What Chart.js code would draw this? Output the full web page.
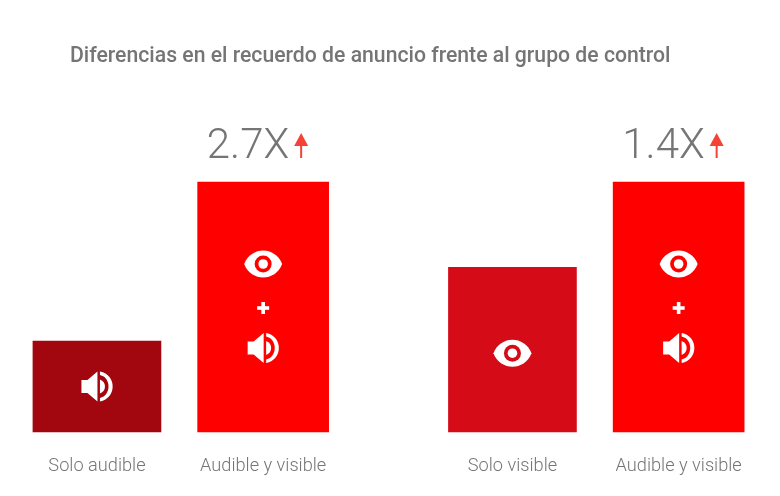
<!DOCTYPE html>
<html><head><meta charset="utf-8">
<style>html,body{margin:0;padding:0;background:#fff}canvas{display:block}</style>
<script src="https://cdn.jsdelivr.net/npm/chart.js@4"></script>
</head><body><canvas id="c" width="780" height="496"></canvas>
<script>
const chartTitle = 'Diferencias en el recuerdo de anuncio frente al grupo de control';
const categories = ['Solo audible','','Audible y visible','','','Solo visible','','Audible y visible'];
const soloValues = [1,null,null,null,null,1.81,null,null];
const combinedValues = [null,null,2.75,null,null,null,null,2.75];
const soloColors = ['#A2070F','','','','','#D50C18','',''];
const combinedColor = '#FF0000';
const multipliers = {2:'2.7X',7:'1.4X'};
const icons = {0:['speaker'],5:['eye'],2:['eye','plus','speaker'],7:['eye','plus','speaker']};

function drawEye(g,x,y,col){
  g.fillStyle='#fff';g.beginPath();g.moveTo(x-19,y);
  g.bezierCurveTo(x-12,y-18,x+12,y-18,x+19,y);
  g.bezierCurveTo(x+12,y+18,x-12,y+18,x-19,y);g.closePath();g.fill();
  g.fillStyle=col;g.beginPath();g.arc(x,y,8.5,0,Math.PI*2);g.fill();
  g.fillStyle='#fff';g.beginPath();g.arc(x,y,4.8,0,Math.PI*2);g.fill();
}
function drawPlus(g,x,y){
  g.fillStyle='#fff';g.fillRect(x-6,y-1.8,12,3.6);g.fillRect(x-1.8,y-6,3.6,12);
}
function drawSpeaker(g,x,y){
  g.fillStyle='#fff';
  g.beginPath();g.moveTo(x-15.5,y-6.5);g.lineTo(x-9.5,y-6.5);g.lineTo(x+0.5,y-15);
  g.lineTo(x+0.5,y+15);g.lineTo(x-9.5,y+6.5);g.lineTo(x-15.5,y+6.5);g.closePath();g.fill();
  g.beginPath();g.moveTo(x+3,y-7);g.quadraticCurveTo(x+8,y-5,x+8,y);g.quadraticCurveTo(x+8,y+5,x+3,y+7);g.closePath();g.fill();
  g.beginPath();g.moveTo(x+3,y-15);g.bezierCurveTo(x+20,y-12,x+20,y+12,x+3,y+15);
  g.lineTo(x+3,y+11.5);g.bezierCurveTo(x+14.5,y+9,x+14.5,y-9,x+3,y-11.5);g.closePath();g.fill();
}
const decorations = {
  id:'decorations',
  afterDraw(chart){
    const g=chart.ctx, sx=chart.scales.x, sy=chart.scales.y;
    g.save();
    g.textBaseline='alphabetic';g.textAlign='left';
    g.fillStyle='#757575';g.font='500 21.2px Roboto';
    g.fillText(chartTitle,70,62);
    categories.forEach((c,i)=>{
      if(!icons[i])return;
      const x=sx.getPixelForValue(i);
      const v=soloValues[i]??combinedValues[i];
      const top=sy.getPixelForValue(v), bot=sy.getPixelForValue(0), mid=(top+bot)/2;
      const col=soloValues[i]!=null?soloColors[i]:combinedColor;
      if(icons[i].length===1){
        if(icons[i][0]==='eye')drawEye(g,x,mid+3.5,col);else drawSpeaker(g,x,mid);
      }else{
        drawEye(g,x,mid-43,col);drawPlus(g,x,mid+1);drawSpeaker(g,x,mid+41);
      }
      if(multipliers[i]){
        const ax=x+38;
        g.textAlign='right';g.fillStyle='#757575';g.font='300 42px Roboto';
        g.fillText(multipliers[i],ax-12,top-24.5);
        g.fillStyle='#F44336';
        g.beginPath();g.moveTo(ax,top-49);g.lineTo(ax+7,top-36);g.lineTo(ax-7,top-36);g.closePath();g.fill();
        g.fillRect(ax-1,top-37,2,13);
      }
    });
    g.restore();
  }
};
new Chart(document.getElementById('c'),{
  type:'bar',
  data:{labels:categories,datasets:[
    {label:'Solo',data:soloValues,backgroundColor:soloColors,barThickness:128,clip:false,grouped:false},
    {label:'Audible y visible',data:combinedValues,backgroundColor:combinedColor,barThickness:131,clip:false,grouped:false}
  ]},
  options:{
    responsive:false,animation:false,
    layout:{padding:{left:55.4,right:59.8,top:182,bottom:0}},
    plugins:{legend:{display:false},tooltip:{enabled:false},title:{display:false}},
    scales:{
      x:{grid:{display:false},border:{display:false},
        afterFit(s){s.height=64;},
        ticks:{autoSkip:false,maxRotation:0,minRotation:0,padding:15.5,color:'#757575',font:{family:'Roboto',size:18.2,weight:'300'}}},
      y:{display:false,min:0,max:2.75}
    }
  },
  plugins:[decorations]
});
</script></body></html>
